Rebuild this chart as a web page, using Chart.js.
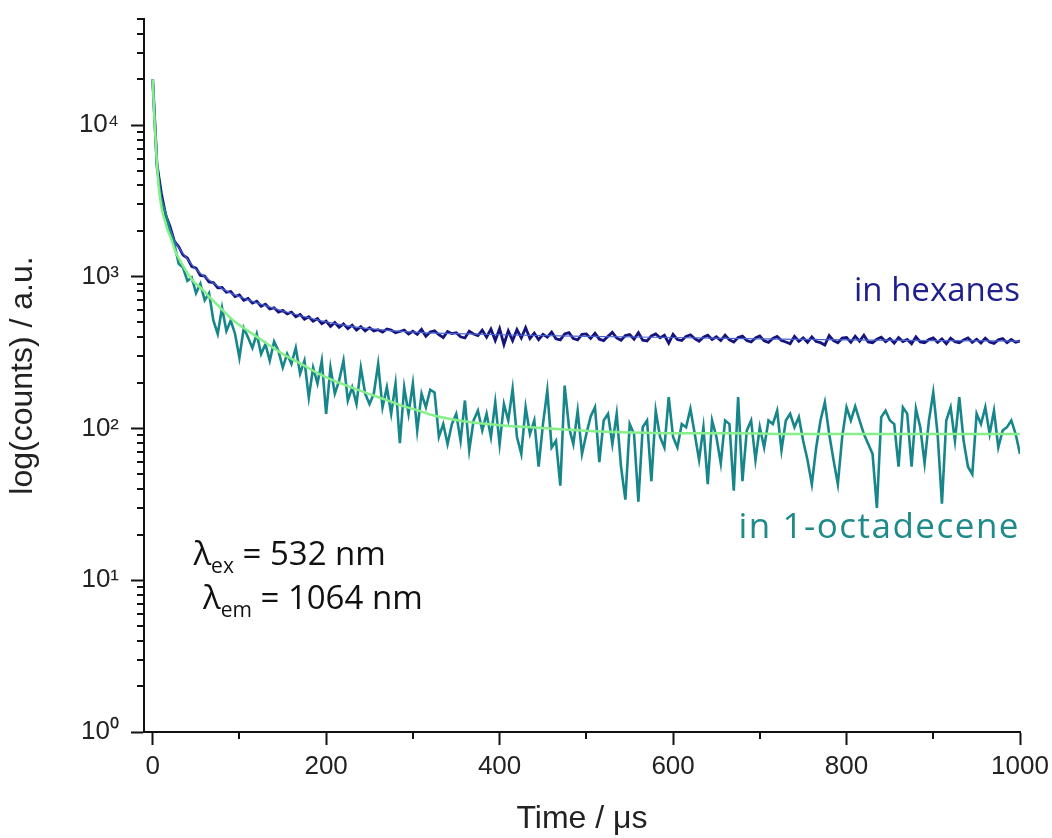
<!DOCTYPE html>
<html>
<head>
<meta charset="utf-8">
<script src="https://cdn.jsdelivr.net/npm/chart.js@4.4.1/dist/chart.umd.min.js"></script>
<style>
  html, body { margin: 0; padding: 0; background: #fff; }
  #wrap { width: 1052px; height: 838px; }
</style>
</head>
<body>
<div id="wrap"><canvas id="chart" width="1052" height="838"></canvas></div>
<script>
// time axis of the decay traces, in microseconds
const times = [
  0, 5, 10, 15, 20, 25, 30, 35, 40, 45,
  50, 55, 60, 65, 70, 75, 80, 85, 90, 95,
  100, 105, 110, 115, 120, 125, 130, 135, 140, 145,
  150, 155, 160, 165, 170, 175, 180, 185, 190, 195,
  200, 205, 210, 215, 220, 225, 230, 235, 240, 245,
  250, 255, 260, 265, 270, 275, 280, 285, 290, 295,
  300, 305, 310, 315, 320, 325, 330, 335, 340, 345,
  350, 355, 360, 365, 370, 375, 380, 385, 390, 395,
  400, 405, 410, 415, 420, 425, 430, 435, 440, 445,
  450, 455, 460, 465, 470, 475, 480, 485, 490, 495,
  500, 505, 510, 515, 520, 525, 530, 535, 540, 545,
  550, 555, 560, 565, 570, 575, 580, 585, 590, 595,
  600, 605, 610, 615, 620, 625, 630, 635, 640, 645,
  650, 655, 660, 665, 670, 675, 680, 685, 690, 695,
  700, 705, 710, 715, 720, 725, 730, 735, 740, 745,
  750, 755, 760, 765, 770, 775, 780, 785, 790, 795,
  800, 805, 810, 815, 820, 825, 830, 835, 840, 845,
  850, 855, 860, 865, 870, 875, 880, 885, 890, 895,
  900, 905, 910, 915, 920, 925, 930, 935, 940, 945,
  950, 955, 960, 965, 970, 975, 980, 985, 990, 995,
  1000
];

// counts, in hexanes
const hexanes = [
  20000, 5500, 3550, 2550, 2150, 1720, 1580, 1390, 1330, 1170,
  1140, 1020, 1010, 925, 915, 845, 850, 790, 800, 740,
  760, 700, 720, 670, 690, 640, 660, 615, 625, 585,
  600, 570, 585, 545, 565, 525, 545, 510, 530, 490,
  510, 470, 500, 465, 490, 455, 480, 445, 470, 440,
  462, 440, 448, 432, 452, 445, 428, 436, 445, 420,
  438, 418, 450, 405, 432, 440, 415, 398, 436, 422,
  428, 402, 395, 438, 420, 410, 445, 400, 452, 380,
  455, 358, 440, 380, 448, 395, 462, 392, 425, 385,
  418, 400, 432, 390, 384, 420, 428, 392, 384, 418,
  420, 392, 425, 388, 380, 405, 430, 395, 382, 410,
  416, 388, 428, 382, 378, 408, 420, 396, 412, 365,
  418, 386, 380, 405, 415, 392, 376, 400, 412, 386,
  402, 380, 412, 384, 372, 398, 406, 380, 372, 395,
  408, 378, 370, 392, 404, 380, 372, 362, 405, 376,
  396, 370, 402, 374, 368, 355, 410, 380, 368, 395,
  398, 370, 406, 376, 412, 372, 368, 388, 400, 374,
  392, 366, 398, 374, 386, 362, 402, 372, 368, 386,
  396, 370, 390, 362, 394, 374, 368, 384, 396, 370,
  388, 366, 394, 372, 364, 384, 392, 368, 386, 370,
  378
];

// counts, in 1-octadecene
const octadecene = [
  20000, 5200, 3170, 2600, 2000, 1650, 1220, 1150, 940, 990,
  780, 900, 700, 780, 515, 420, 625, 440, 515, 420,
  293, 460, 398, 340, 420, 310, 360, 280, 375, 325,
  252, 310, 267, 340, 230, 280, 160, 252, 198, 280,
  125, 252, 170, 207, 280, 153, 187, 145, 252, 170,
  145, 170, 267, 138, 187, 125, 198, 80, 187, 125,
  198, 97, 170, 138, 180, 173, 88, 107, 79, 107,
  125, 83, 153, 72, 113, 131, 97, 125, 88, 149,
  79, 145, 113, 182, 88, 68, 138, 92, 113, 56,
  107, 178, 75, 83, 42, 192, 102, 79, 131, 68,
  92, 120, 138, 60, 113, 125, 79, 125, 56, 34,
  107, 92, 33, 102, 113, 45, 131, 88, 75, 161,
  88, 75, 107, 102, 135, 92, 62, 102, 43, 113,
  88, 59, 113, 107, 39, 161, 45, 97, 113, 62,
  102, 75, 113, 107, 131, 72, 113, 125, 102, 119,
  83, 62, 43, 75, 113, 149, 92, 62, 43, 88,
  138, 113, 140, 113, 92, 79, 68, 30, 119, 131,
  113, 107, 56, 138, 125, 56, 135, 102, 59, 113,
  173, 92, 32, 113, 138, 83, 161, 83, 56, 50,
  125, 107, 138, 92, 131, 75, 97, 102, 113, 92,
  68
];

// fitted decays
const fitHexTimes = [0, 2, 4, 7, 10, 15, 20, 25, 30, 40, 50, 60, 75, 90, 110, 130, 150, 175, 200, 225, 250, 300, 350, 400, 500, 600, 700, 800, 900, 1000];
const fitHex = [20000, 11000, 6900, 4200, 3400, 2600, 2100, 1750, 1560, 1310, 1120, 1000, 870, 780, 705, 645, 595, 545, 505, 475, 455, 432, 422, 415, 405, 398, 390, 384, 380, 377];

const fitOctTimes = [0, 2, 4, 7, 10, 13, 17, 21, 26, 32, 40, 48, 55, 65, 75, 85, 93, 110, 132, 150, 171, 190, 209, 230, 248, 270, 286, 305, 324, 350, 380, 410, 436, 470, 510, 551, 600, 666, 750, 850, 1000];
const fitOct = [20000, 11000, 6800, 3900, 2900, 2450, 2050, 1800, 1480, 1270, 1060, 920, 850, 740, 650, 570, 515, 440, 362, 310, 267, 232, 207, 186, 170, 154, 142, 132, 122, 114, 108, 104, 102, 99, 96, 94, 93, 93, 92, 92, 92];

const xTicks = [0, 200, 400, 600, 800, 1000];
const xMinor = [100, 300, 500, 700, 900];
const yTicks = [1, 10, 100, 1000, 10000];
const yLabels = ['10\u2070', '10\u00b9', '10\u00b2', '10\u00b3', '10\u2074'];
const yMinor = [
  2, 3, 4, 5, 6, 7, 8, 9,
  20, 30, 40, 50, 60, 70, 80, 90,
  200, 300, 400, 500, 600, 700, 800, 900,
  2000, 3000, 4000, 5000, 6000, 7000, 8000, 9000,
  20000, 30000, 40000, 50000
];

const notes = [
  {text: 'in hexanes', t: 1000, v: 695, color: '#1f1f8c', size: 33, spacing: 0},
  {text: 'in 1-octadecene', t: 1000, v: 18.9, color: '#1f8a8a', size: 35, spacing: 1.5}
];
const lambdas = [
  {sub: 'ex', rest: ' = 532 nm', t: 47, v: 12.6},
  {sub: 'em', rest: ' = 1064 nm', t: 58, v: 6.5}
];

const pts = (xs, ys) => xs.map((x, i) => ({x: x, y: ys[i]}));

const extras = {
  id: 'extras',
  afterDraw(chart) {
    const {ctx, chartArea} = chart;
    const x = chart.scales.x, y = chart.scales.y;
    ctx.save();
    // minor ticks
    ctx.strokeStyle = '#111';
    ctx.lineWidth = 2;
    ctx.beginPath();
    xMinor.forEach(v => {
      const px = Math.round(x.getPixelForValue(v));
      ctx.moveTo(px, chartArea.bottom);
      ctx.lineTo(px, chartArea.bottom + 7);
    });
    yMinor.forEach(v => {
      const py = Math.round(y.getPixelForValue(v));
      ctx.moveTo(chartArea.left, py);
      ctx.lineTo(chartArea.left - 7, py);
    });
    ctx.stroke();

    // labels
    ctx.textBaseline = 'alphabetic';
    ctx.textAlign = 'right';
    notes.forEach(n => {
      ctx.font = n.size + 'px "Open Sans"';
      ctx.letterSpacing = n.spacing + 'px';
      ctx.fillStyle = n.color;
      ctx.fillText(n.text, x.getPixelForValue(n.t), y.getPixelForValue(n.v));
    });
    ctx.letterSpacing = '0px';
    ctx.textAlign = 'left';
    ctx.fillStyle = '#111';
    lambdas.forEach(l => {
      let px = x.getPixelForValue(l.t);
      const py = y.getPixelForValue(l.v);
      ctx.font = '33px "Open Sans"';
      ctx.fillText('\u03bb', px, py);
      px += ctx.measureText('\u03bb').width;
      ctx.font = '21px "Open Sans"';
      ctx.fillText(l.sub, px, py + 8);
      px += ctx.measureText(l.sub).width;
      ctx.font = '33px "Open Sans"';
      ctx.fillText(l.rest, px, py);
    });
    ctx.restore();
  }
};

new Chart(document.getElementById('chart'), {
  type: 'line',
  data: {
    datasets: [
      {
        label: 'fit 1-octadecene',
        data: pts(fitOctTimes, fitOct),
        borderColor: '#86ef8a',
        borderWidth: 2.5,
        cubicInterpolationMode: 'monotone',
        pointRadius: 0
      },
      {
        label: 'in 1-octadecene',
        data: pts(times, octadecene),
        borderColor: '#17868a',
        borderWidth: 2.6,
        pointRadius: 0
      },
      {
        label: 'fit hexanes',
        data: pts(fitHexTimes, fitHex),
        borderColor: '#4a62d0',
        borderWidth: 1.2,
        cubicInterpolationMode: 'monotone',
        pointRadius: 0
      },
      {
        label: 'in hexanes',
        data: pts(times, hexanes),
        borderColor: '#14147c',
        borderWidth: 2.8,
        pointRadius: 0
      }
    ]
  },
  options: {
    responsive: false,
    animation: false,
    parsing: false,
    layout: {
      padding: {top: 19, right: 32, left: 0, bottom: 0}
    },
    plugins: {
      legend: {display: false},
      tooltip: {enabled: false}
    },
    scales: {
      x: {
        type: 'linear',
        min: -10,
        max: 1000,
        afterBuildTicks: scale => {
          scale.ticks = xTicks.map(v => ({value: v}));
        },
        afterFit: scale => {
          scale.height = 106;
          scale.paddingLeft = 0;
          scale.paddingRight = 0;
        },
        grid: {
          drawOnChartArea: false,
          tickLength: 13,
          tickWidth: 2,
          tickColor: '#111'
        },
        border: {color: '#111', width: 2},
        ticks: {
          color: '#222',
          padding: 6,
          font: {family: '"Liberation Sans", Arial, sans-serif', size: 26},
          callback: v => String(v)
        },
        title: {
          display: true,
          text: 'Time / \u03bcs',
          color: '#222',
          padding: {top: 0, bottom: 0},
          font: {family: '"Liberation Sans", Arial, sans-serif', size: 32}
        }
      },
      y: {
        type: 'logarithmic',
        min: 1,
        max: 50000,
        afterBuildTicks: scale => {
          scale.ticks = yTicks.map(v => ({value: v}));
        },
        afterFit: scale => {
          scale.width = 144;
          scale.paddingTop = 0;
          scale.paddingBottom = 0;
        },
        grid: {
          drawOnChartArea: false,
          tickLength: 13,
          tickWidth: 2,
          tickColor: '#111'
        },
        border: {color: '#111', width: 2},
        ticks: {
          color: '#222',
          padding: 12,
          font: {family: '"Liberation Sans", Arial, sans-serif', size: 26},
          callback: (v, i) => yLabels[i]
        },
        title: {
          display: true,
          text: 'log(counts) / a.u.',
          color: '#222',
          padding: {top: 4, bottom: 0},
          font: {family: '"Liberation Sans", Arial, sans-serif', size: 32}
        }
      }
    }
  },
  plugins: [extras]
});
</script>
</body>
</html>
